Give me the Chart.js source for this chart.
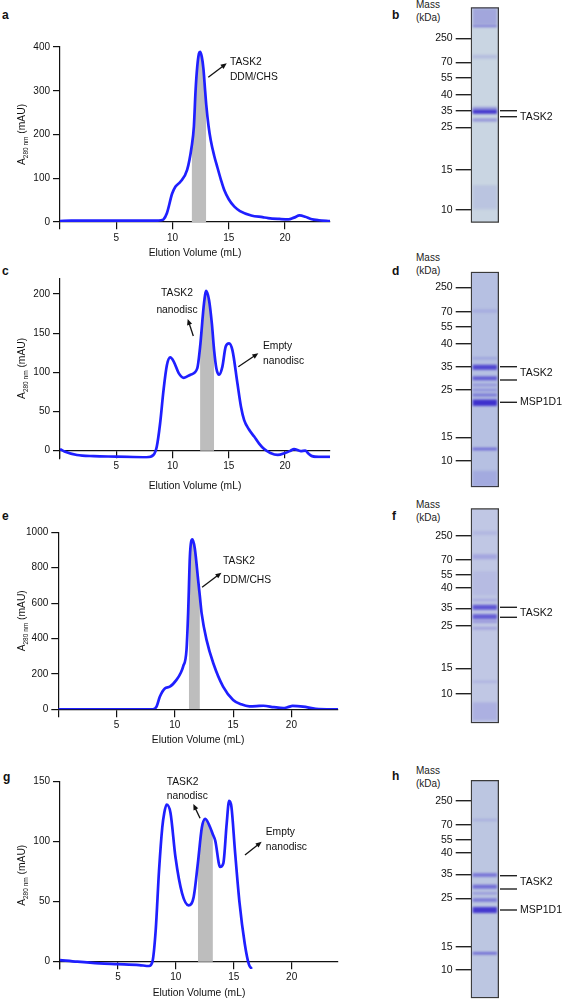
<!DOCTYPE html>
<html>
<head>
<meta charset="utf-8">
<script src="https://cdn.jsdelivr.net/npm/chart.js@4.4.1/dist/chart.umd.min.js"></script>
<style>
  body { margin: 0; width: 562px; height: 1000px; position: relative; overflow: hidden; background: #fff;
         font-family: 'Liberation Sans', Arial, sans-serif; color: #111; }
  canvas { position: absolute; }
  .panel { position: absolute; font-weight: bold; font-size: 12px; line-height: 12px; }
  .mass { position: absolute; font-size: 10px; line-height: 12.5px; color: #222; }
</style>
</head>
<body>

<div class="panel" style="left:2px;top:9px">a</div>
<div class="panel" style="left:2px;top:265px">c</div>
<div class="panel" style="left:2px;top:510px">e</div>
<div class="panel" style="left:3px;top:771px">g</div>
<div class="panel" style="left:392px;top:9px">b</div>
<div class="panel" style="left:392px;top:265px">d</div>
<div class="panel" style="left:392px;top:510px">f</div>
<div class="panel" style="left:392px;top:770px">h</div>

<div class="mass" style="left:416px;top:-1px">Mass<br>(kDa)</div>
<div class="mass" style="left:416px;top:252px">Mass<br>(kDa)</div>
<div class="mass" style="left:416px;top:499px">Mass<br>(kDa)</div>
<div class="mass" style="left:416px;top:765px">Mass<br>(kDa)</div>

<canvas id="chromA" width="345" height="262" style="left:0;top:0"></canvas>
<canvas id="chromC" width="345" height="238" style="left:0;top:262px"></canvas>
<canvas id="chromE" width="345" height="250" style="left:0;top:500px"></canvas>
<canvas id="chromG" width="345" height="250" style="left:0;top:750px"></canvas>

<canvas id="gelB" width="177" height="245" style="left:385px;top:0"></canvas>
<canvas id="gelD" width="177" height="245" style="left:385px;top:250px"></canvas>
<canvas id="gelF" width="177" height="250" style="left:385px;top:495px"></canvas>
<canvas id="gelH" width="177" height="255" style="left:385px;top:745px"></canvas>

<script>
// ============================
// Chromatogram data (mL, mAU)
// ============================
const volA = [0, 1, 3, 5, 7, 8.5, 9.0, 9.2, 9.5, 9.97, 10.27, 10.7, 11.3, 11.7, 11.9, 12.05, 12.2, 12.35, 12.45, 12.6, 12.75, 12.9, 13.0, 13.2, 13.4, 13.7, 14.0, 14.3, 14.6, 15.0, 15.5, 16.0, 17.0, 18.0, 18.5, 19.5, 20.3, 20.8, 21.3, 21.8, 22.3, 23, 24];
const absA = [2, 3, 3, 3, 3, 3, 4, 6, 20, 65, 81, 92, 119, 172, 218, 300, 355, 385, 389, 378, 350, 300, 268, 220, 187, 152, 124, 97, 73, 52, 35, 25, 15, 11, 9, 7, 6, 10, 15, 12, 7, 4, 2];
const fracA = [11.7, 13.0];

const volC = [0, 0.4, 1.5, 3, 5, 7.7, 8.3, 8.6, 8.9, 9.2, 9.5, 9.8, 10.1, 10.55, 11.0, 11.6, 12.2, 12.45, 12.8, 13.0, 13.25, 13.5, 13.7, 13.9, 14.14, 14.43, 14.73, 15.03, 15.33, 15.77, 16.1, 16.37, 16.8, 17.26, 17.7, 18.15, 18.7, 19.35, 20.0, 20.5, 20.8, 21.4, 21.8, 22.1, 22.4, 23, 24];
const absC = [2, -1, -5.5, -7, -7.6, -8.5, -5.5, 5, 35, 77, 109, 119, 114, 99, 93, 97, 105, 132, 188, 204, 192, 162, 128, 105, 97, 107, 133, 137, 128, 86, 55, 39, 27, 18, 9, 2, -3, -5.5, -3, 0, 2, -0.5, 0, -4, -7, -8, -8];
const fracC = [12.45, 13.7];

const volE = [0, 4, 8.1, 8.43, 8.71, 9.14, 9.57, 10.14, 10.5, 10.71, 11.0, 11.14, 11.2, 11.29, 11.5, 11.71, 12.0, 12.15, 12.3, 12.72, 13.3, 14.14, 15.0, 15.7, 16.4, 17.0, 17.6, 18.5, 19.3, 19.7, 20.1, 21.0, 22.1, 24];
const absE = [0, 0, 0, 15, 71, 118, 128, 166, 205, 241, 335, 542, 670, 862, 960, 910, 730, 636, 542, 392, 260, 128, 53, 28, 17, 18, 20, 12, 7, 12, 19, 15, 3, 0];
const fracE = [11.2, 12.15];

const volG = [0, 1.5, 3.42, 5, 6.84, 7.69, 7.98, 8.26, 8.55, 8.83, 9.0, 9.2, 9.54, 9.97, 10.54, 11.1, 11.54, 11.9, 12.25, 12.54, 12.96, 13.2, 13.4, 13.82, 14.1, 14.39, 14.6, 14.8, 15.1, 15.5, 15.95, 16.3, 16.55];
const absG = [1.4, 0, -1.4, -2, -2.8, -3.6, 0, 26, 76, 112, 124, 131, 124, 87, 57, 47, 54, 82, 112, 119, 112, 106, 101, 79, 82, 115, 134, 129, 93, 49, 15, -2, -6];
const fracG = [11.9, 13.2];

const volTicks = [0, 5, 10, 15, 20];

// ============================
// Gel data (migration from well, kDa ladder)
// ============================
const markerKda = [250, 70, 55, 40, 35, 25, 15, 10];

const markB = [31, 55, 70.4, 87.7, 103.4, 120, 162.7, 202.7];
const bandPosB = [9, 18.7, 49.4, 101, 104.4, 112.7, 190];
const bandIntB = [0.28, 0.5, 0.14, 0.35, 0.95, 0.4, 0.1];
const bandSpreadB = [8, 1.2, 2, 1.5, 2.2, 1.5, 12];

const markD = [15.6, 40, 55, 72.3, 95, 118.3, 165.6, 189];
const bandPosD = [39.3, 86.6, 95.6, 106.6, 113.3, 118.3, 123.3, 131, 177.3, 207];
const bandIntD = [0.15, 0.2, 0.85, 0.7, 0.3, 0.35, 0.5, 1.0, 0.6, 0.15];
const bandSpreadD = [1.5, 1.2, 2.5, 2, 1.2, 1.2, 1.5, 3.2, 1.3, 8];

const markF = [27.4, 51.7, 66.7, 79.4, 100, 117.7, 160, 185.7];
const bandPosF = [24.7, 48.4, 75, 91.7, 99, 108.4, 113.4, 120, 173.4, 203];
const bandIntF = [0.1, 0.22, 0.08, 0.2, 0.75, 0.7, 0.35, 0.25, 0.15, 0.15];
const bandSpreadF = [2, 2.5, 12, 1.2, 2.5, 2.5, 1.2, 1.2, 1, 9];

const markH = [21, 45, 60, 72.7, 94.3, 118.3, 166.7, 190];
const bandPosH = [40, 95, 106.7, 113.3, 120, 130, 173.3];
const bandIntH = [0.15, 0.55, 0.6, 0.3, 0.5, 0.95, 0.6];
const bandSpreadH = [1.2, 1.8, 2, 1.2, 1.8, 3, 1.3];

// ============================
// Shared styling
// ============================
const FONT = "'Liberation Sans', Arial, sans-serif";
const LINE_BLUE = '#1f1fff';
const SHADE = '#bdbdbd';

// text + arrow annotations, placed in data units
const annotPlugin = {
  id: 'annot',
  afterDatasetsDraw(chart) {
    const ann = chart.options.plugins.annot;
    if (!ann) return;
    const {ctx} = chart;
    const xs = chart.scales.x, ys = chart.scales.y;
    ctx.save();
    ctx.fillStyle = '#111';
    ctx.strokeStyle = '#111';
    ctx.font = '10.3px ' + FONT;
    ctx.textBaseline = 'middle';
    ann.texts.forEach(t => {
      ctx.textAlign = t.align;
      ctx.fillText(t.t, xs.getPixelForValue(t.x), ys.getPixelForValue(t.y));
    });
    ann.arrows.forEach(a => {
      const x1 = xs.getPixelForValue(a[0]), y1 = ys.getPixelForValue(a[1]);
      const x2 = xs.getPixelForValue(a[2]), y2 = ys.getPixelForValue(a[3]);
      const ang = Math.atan2(y2 - y1, x2 - x1);
      ctx.lineWidth = 1.3;
      ctx.beginPath();
      ctx.moveTo(x1, y1);
      ctx.lineTo(x2 - 4 * Math.cos(ang), y2 - 4 * Math.sin(ang));
      ctx.stroke();
      ctx.beginPath();
      ctx.moveTo(x2, y2);
      ctx.lineTo(x2 - 6 * Math.cos(ang) + 2.6 * Math.sin(ang), y2 - 6 * Math.sin(ang) - 2.6 * Math.cos(ang));
      ctx.lineTo(x2 - 6 * Math.cos(ang) - 2.6 * Math.sin(ang), y2 - 6 * Math.sin(ang) + 2.6 * Math.cos(ang));
      ctx.closePath();
      ctx.fill();
    });
    ctx.restore();
  }
};

// y title with subscript: A(280 nm) (mAU)
const yTitlePlugin = {
  id: 'yTitle',
  afterDraw(chart) {
    const {ctx, chartArea} = chart;
    const parts = [['A', 10.3, 0], ['280 nm', 6.5, 3], [' (mAU)', 10.3, 0]];
    ctx.save();
    ctx.translate(21, (chartArea.top + chartArea.bottom) / 2);
    ctx.rotate(-Math.PI / 2);
    ctx.fillStyle = '#111';
    ctx.textBaseline = 'alphabetic';
    ctx.textAlign = 'left';
    let total = 0;
    parts.forEach(p => { ctx.font = p[1] + 'px ' + FONT; total += ctx.measureText(p[0]).width; });
    let x = -total / 2;
    parts.forEach(p => {
      ctx.font = p[1] + 'px ' + FONT;
      ctx.fillText(p[0], x, 3.7 + p[2]);
      x += ctx.measureText(p[0]).width;
    });
    ctx.restore();
  }
};

function chromChart(id, vol, abs, frac, cfg) {
  const pts = vol.map((v, i) => ({x: v, y: abs[i]}));
  const shadePts = pts.filter(p => p.x >= frac[0] && p.x <= frac[1]);
  return new Chart(document.getElementById(id), {
    type: 'line',
    data: {
      datasets: [
        { data: pts, borderColor: LINE_BLUE, borderWidth: 2.7, pointRadius: 0,
          cubicInterpolationMode: 'monotone', fill: false },
        { data: shadePts, borderWidth: 0, borderColor: SHADE, backgroundColor: SHADE, pointRadius: 0,
          cubicInterpolationMode: 'monotone', fill: 'origin' }
      ]
    },
    options: {
      responsive: false,
      animation: false,
      events: [],
      layout: { padding: { left: 0, top: cfg.padTop, right: cfg.padRight, bottom: cfg.padBottom } },
      plugins: { legend: { display: false }, tooltip: { enabled: false }, annot: cfg.ann },
      scales: {
        x: {
          type: 'linear', min: 0, max: 24, position: { y: 0 },
          afterBuildTicks: s => { s.ticks = volTicks.map(v => ({value: v})); },
          afterFit: s => { s.paddingLeft = 0; s.paddingRight = 0; },
          ticks: { callback: v => v === 0 ? '' : String(v), font: { family: FONT, size: 10 }, color: '#111', padding: 3, maxRotation: 0 },
          grid: { drawOnChartArea: false, tickLength: 7, color: '#111', lineWidth: 1.2 },
          border: { color: '#111', width: 1.2 },
          title: { display: true, text: 'Elution Volume (mL)', color: '#111',
                   font: { family: FONT, size: 10.3 }, padding: { top: cfg.titlePad, bottom: 0 } }
        },
        y: {
          min: cfg.yMin, max: cfg.yMax,
          afterBuildTicks: s => { s.ticks = cfg.yTicks.map(v => ({value: v})); },
          afterFit: s => { s.width = cfg.axisX; s.paddingTop = 0; s.paddingBottom = 0; },
          ticks: { callback: v => String(v), font: { family: FONT, size: 10 }, color: '#111', padding: 3 },
          grid: { drawOnChartArea: false, tickLength: 7, color: '#111', lineWidth: 1.2 },
          border: { color: '#111', width: 1.2 }
        }
      }
    },
    plugins: [annotPlugin, yTitlePlugin]
  });
}

chromChart('chromA', volA, absA, fracA, {
  padTop: 47, padBottom: 40, padRight: 15, axisX: 60, titlePad: 0,
  yMin: 0, yMax: 400, yTicks: [0, 100, 200, 300, 400],
  ann: {
    texts: [{t: 'TASK2', x: 15.1, y: 366, align: 'left'}, {t: 'DDM/CHS', x: 15.1, y: 331, align: 'left'}],
    arrows: [[13.18, 330.7, 14.82, 362.8]]
  }
});

chromChart('chromC', volC, absC, fracC, {
  padTop: 16.3, padBottom: 41.5, padRight: 15, axisX: 60, titlePad: 4,
  yMin: -10, yMax: 220, yTicks: [0, 50, 100, 150, 200],
  ann: {
    texts: [{t: 'TASK2', x: 10.4, y: 201, align: 'center'}, {t: 'nanodisc', x: 10.4, y: 179, align: 'center'},
            {t: 'Empty', x: 18.04, y: 133.6, align: 'left'}, {t: 'nanodisc', x: 18.04, y: 114.5, align: 'left'}],
    arrows: [[11.85, 146.4, 11.35, 168.1], [15.85, 107.2, 17.63, 124.3]]
  }
});

chromChart('chromE', volE, absE, fracE, {
  padTop: 32.3, padBottom: 40.7, padRight: 7, axisX: 58.3, titlePad: 0,
  yMin: 0, yMax: 1000, yTicks: [0, 200, 400, 600, 800, 1000],
  ann: {
    texts: [{t: 'TASK2', x: 14.14, y: 839.5, align: 'left'}, {t: 'DDM/CHS', x: 14.14, y: 730.5, align: 'left'}],
    arrows: [[12.34, 689, 14.0, 772]]
  }
});

chromChart('chromG', volG, absG, fracG, {
  padTop: 31.7, padBottom: 31.1, padRight: 7, axisX: 60, titlePad: 0,
  yMin: -6, yMax: 150, yTicks: [0, 50, 100, 150],
  ann: {
    texts: [{t: 'TASK2', x: 9.21, y: 150, align: 'left'}, {t: 'nanodisc', x: 9.21, y: 138, align: 'left'},
            {t: 'Empty', x: 17.76, y: 108.3, align: 'left'}, {t: 'nanodisc', x: 17.76, y: 95.8, align: 'left'}],
    arrows: [[12.09, 119.5, 11.51, 131.4], [15.97, 88.9, 17.41, 100]]
  }
});

// ============================
// Gels
// ============================
// soften stained bands a little
const blurPlugin = {
  id: 'bandBlur',
  beforeDatasetDraw(chart, args) {
    if (chart.data.datasets[args.index].isBand) { chart.ctx.save(); chart.ctx.filter = 'blur(1.1px)'; }
  },
  afterDatasetDraw(chart, args) {
    if (chart.data.datasets[args.index].isBand) chart.ctx.restore();
  }
};

// lines + names to the right of the lane
const gelLabelPlugin = {
  id: 'gelLabels',
  afterDraw(chart) {
    const right = chart.options.plugins.gelLabels;
    if (!right) return;
    const {ctx, chartArea} = chart;
    const ys = chart.scales.y;
    ctx.save();
    ctx.strokeStyle = '#222';
    ctx.fillStyle = '#111';
    ctx.lineWidth = 1.4;
    ctx.font = '10.5px ' + FONT;
    ctx.textBaseline = 'middle';
    ctx.textAlign = 'left';
    right.forEach(r => {
      r.lines.forEach(v => {
        const y = ys.getPixelForValue(v);
        ctx.beginPath();
        ctx.moveTo(chartArea.right + 1, y);
        ctx.lineTo(chartArea.right + 18, y);
        ctx.stroke();
      });
      ctx.fillText(r.text, chartArea.right + 21, ys.getPixelForValue(r.at));
    });
    ctx.restore();
  }
};

function gelChart(id, marks, pos, inten, spread, cfg) {
  const bands = pos.map((p, i) => ({
    data: [[p - spread[i], p + spread[i]]],
    backgroundColor: 'rgba(62, 48, 205, ' + inten[i] + ')',
    borderWidth: 0, barPercentage: 0.86, categoryPercentage: 1, grouped: false, order: 0, isBand: true
  }));
  const lane = {
    data: [[0, cfg.len]], backgroundColor: cfg.bg, borderColor: '#3a3a3a', borderWidth: 1.6,
    borderSkipped: false, barPercentage: 1, categoryPercentage: 1, grouped: false, order: 1
  };
  return new Chart(document.getElementById(id), {
    type: 'bar',
    data: { labels: ['lane'], datasets: bands.concat([lane]) },
    options: {
      responsive: false,
      animation: false,
      events: [],
      layout: { padding: { left: 0, top: cfg.padTop, right: 63, bottom: cfg.padBottom } },
      plugins: { legend: { display: false }, tooltip: { enabled: false }, gelLabels: cfg.right },
      scales: {
        x: { display: false },
        y: {
          min: 0, max: cfg.len, reverse: true,
          afterBuildTicks: s => { s.ticks = marks.map(v => ({value: v})); },
          afterFit: s => { s.width = 85.7; s.paddingTop = 0; s.paddingBottom = 0; },
          ticks: { autoSkip: false, callback: (v, i) => markerKda[i], font: { family: FONT, size: 10.5 }, color: '#111', padding: 3 },
          grid: { drawOnChartArea: false, tickLength: 15, color: '#222', lineWidth: 1.4 },
          border: { display: false }
        }
      }
    },
    plugins: [blurPlugin, gelLabelPlugin]
  });
}

gelChart('gelB', markB, bandPosB, bandIntB, bandSpreadB, {
  len: 215.4, padTop: 7.3, padBottom: 22.3, bg: 'rgb(201, 213, 226)',
  right: [{lines: [103.4, 109.4], text: 'TASK2', at: 109.4}]
});
gelChart('gelD', markD, bandPosD, bandIntD, bandSpreadD, {
  len: 215.6, padTop: 21.7, padBottom: 7.7, bg: 'rgb(182, 192, 226)',
  right: [{lines: [95, 108.3], text: 'TASK2', at: 101.6}, {lines: [130.6], text: 'MSP1D1', at: 130.6}]
});
gelChart('gelF', markF, bandPosF, bandIntF, bandSpreadF, {
  len: 215, padTop: 13.3, padBottom: 21.7, bg: 'rgb(192, 199, 228)',
  right: [{lines: [99, 109], text: 'TASK2', at: 105}]
});
gelChart('gelH', markH, bandPosH, bandIntH, bandSpreadH, {
  len: 218.3, padTop: 35, padBottom: 1.7, bg: 'rgb(188, 198, 225)',
  right: [{lines: [95.7, 109], text: 'TASK2', at: 102.3}, {lines: [130], text: 'MSP1D1', at: 130}]
});
</script>
</body>
</html>
